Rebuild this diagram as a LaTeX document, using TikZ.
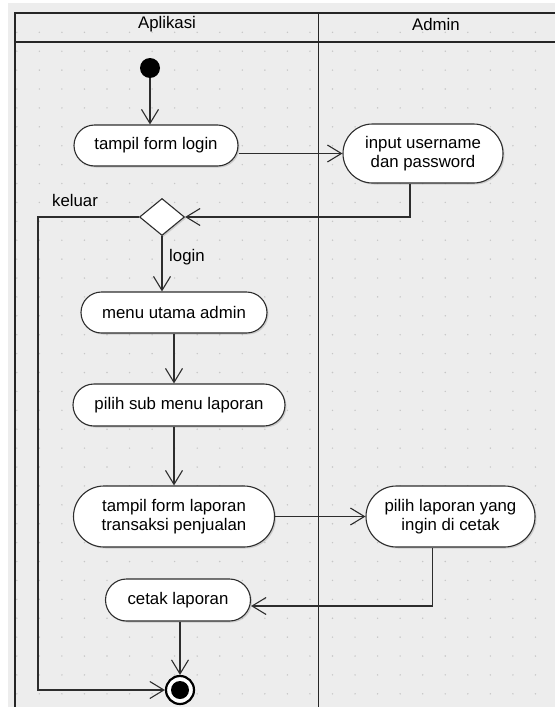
\documentclass[tikz,border=0pt]{standalone}
\usepackage{fontspec}
\setmainfont{Liberation Sans}
\usetikzlibrary{arrows.meta,shapes.geometric,shapes.misc,shadows}

\definecolor{lanebg}{RGB}{237,237,237}
\definecolor{griddot}{RGB}{198,198,198}
\definecolor{ink}{RGB}{45,45,45}

\tikzset{
  act/.style={rounded rectangle, draw=ink, line width=1.1pt, fill=white,
    align=center, inner sep=0pt, font=\fontsize{16.8}{18.5}\selectfont,
    drop shadow={shadow xshift=1.5pt, shadow yshift=-1.5pt, opacity=0.3}},
  flow/.style={draw=ink, line width=1.1pt, -{Straight Barb[length=14pt,width=17pt]}},
  lbl/.style={font=\fontsize{16.8}{18.5}\selectfont, inner sep=0pt},
  lane/.style={draw=black!85, line width=1.7pt}
}

\begin{document}
\begin{tikzpicture}[x=1pt,y=-1pt]
   \useasboundingbox (0,0) rectangle (555,707);
   \fill[lanebg] (8,3) rectangle (555,707);
   \foreach \i in {0,...,23}
     \foreach \j in {0,...,35}
       \fill[griddot] ({16.8+22.55*\i},{32.3+18.9*\j}) circle (0.8pt);
   \draw[lane] (15,707) -- (15,13) -- (555,13);
   \draw[lane] (15,42) -- (555,42);
   \draw[lane] (318.5,13) -- (318.5,707);
   \node[lbl] (hApp) at (167,24) {Aplikasi};
   \node[lbl] (hAdm) at (436,24) {Admin};

   \node[circle, fill=black, minimum size=20pt, inner sep=0pt] (start) at (150,68) {};
   \node[act, minimum width=164pt, minimum height=41pt] (tfl) at (156,145.5) {tampil form login};
   \node[act, minimum width=160pt, minimum height=59pt] (inp) at (423,153.5) {input username\\dan password};
   \node[diamond, draw=ink, line width=1.1pt, fill=white, minimum width=45pt, minimum height=37pt,
     inner sep=0pt, drop shadow={shadow xshift=1.5pt, shadow yshift=-1.5pt, opacity=0.3}] (cek) at (162,217) {};
   \node[act, minimum width=186pt, minimum height=41pt] (mua) at (174,312.5) {menu utama admin};
   \node[act, minimum width=212pt, minimum height=42pt] (psm) at (179,405) {pilih sub menu laporan};
   \node[act, minimum width=201pt, minimum height=61pt] (tfl2) at (174,516.5) {tampil form laporan\\transaksi penjualan};
   \node[act, minimum width=169pt, minimum height=61pt] (pil) at (450.5,516.5) {pilih laporan yang\\ingin di cetak};
   \node[act, minimum width=145pt, minimum height=42pt] (ctk) at (178,600) {cetak laporan};
   \node[circle, draw=black, line width=2.2pt, fill=white, minimum size=28pt, inner sep=0pt] (stop) at (180,690) {};
   \fill (stop) circle (9pt);
   \coordinate (loop) at (38,690);

   \node[lbl] (kel) at (75,200) {keluar};
   \node[lbl, anchor=base west] (lgn) at (169,261) {login};

   \draw[flow] (start.south) -- (start.south |- tfl.north);
   \draw[flow] (tfl.east |- inp.west) -- (inp.west);
   \draw[flow] ([xshift=-13pt]inp.south) |- (cek.east);
   \draw[flow] (cek.west) -| (loop) -- (stop.west);
   \draw[flow] (cek.south) -- (cek.south |- mua.north);
   \draw[flow] (mua.south) -- (mua.south |- psm.north);
   \draw[flow] (mua.south |- psm.south) -- (tfl2.north);
   \draw[flow] (tfl2.east) -- (pil.west);
   \draw[flow] ([xshift=-18pt]pil.south) |- ([yshift=-6pt]ctk.east);
   \draw[flow] (ctk.south -| stop.north) -- (stop.north);
\end{tikzpicture}
\end{document}
